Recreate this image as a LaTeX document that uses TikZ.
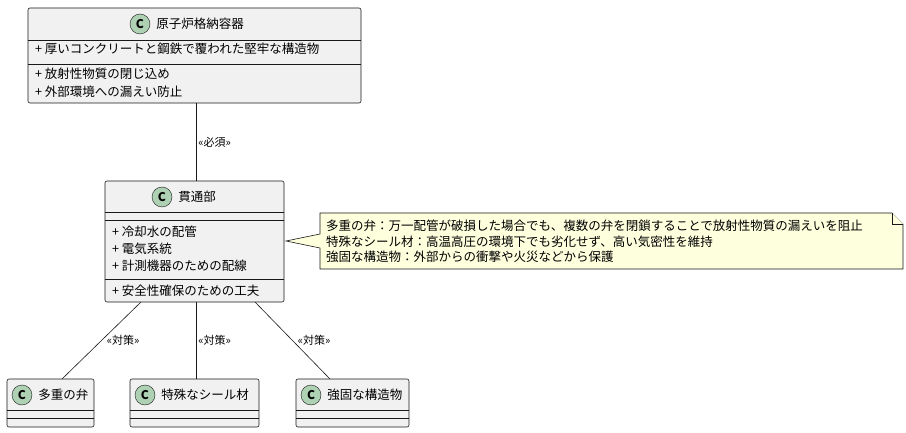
\documentclass[tikz,border=0pt]{standalone}
\usepackage{fontspec}
\setmainfont{Noto Sans CJK JP}
\usetikzlibrary{positioning}
\definecolor{boxfill}{HTML}{F1F1F1}
\definecolor{boxline}{HTML}{181818}
\definecolor{circfill}{HTML}{ADD1B2}
\definecolor{notefill}{HTML}{FEFFDD}
\tikzset{
  classbox/.style={draw=boxline, fill=boxfill, rounded corners=2pt, line width=0.6pt},
  sep/.style={draw=boxline, line width=0.6pt},
  txt/.style={anchor=west, inner sep=0pt, font=\fontsize{12.5}{14}\selectfont},
  lbl/.style={inner sep=1pt, font=\fontsize{11}{13}\selectfont},
  link/.style={draw=boxline, line width=0.6pt},
  cmark/.style={circle, draw=boxline, fill=circfill, minimum size=20pt, inner sep=0pt, font=\bfseries\fontsize{12}{12}\selectfont}
}
% class header: circle + title
\newcommand{\classhead}[4]{% name, circle x, y, title
  \node[cmark] (#1c) at (#2,#3) {C};
  \node[txt, right=6pt of #1c] (#1t) {#4};
}
\begin{document}
\begin{tikzpicture}[x=1pt, y=-1pt]
\useasboundingbox (0,0) rectangle (906,433);

% Containment vessel
\draw[classbox] (28,8) rectangle (361,103);
\coordinate (vesselS) at (196,103);
\classhead{v}{140}{24}{原子炉格納容器}
\draw[sep] (28,40) -- (361,40);
\node[txt] at (35,49) {+ 厚いコンクリートと鋼鉄で覆われた堅牢な構造物};
\draw[sep] (28,64) -- (361,64);
\node[txt] at (35,74) {+ 放射性物質の閉じ込め};
\node[txt] at (35,92) {+ 外部環境への漏えい防止};

% Penetration
\draw[classbox] (105,181) rectangle (284,302);
\coordinate (penN) at (196,181);
\coordinate (penS1) at (141,302);
\coordinate (penS2) at (196,302);
\coordinate (penS3) at (255,302);
\classhead{p}{162}{197}{貫通部}
\draw[sep] (105,212) -- (284,212);
\draw[sep] (105,220) -- (284,220);
\node[txt] at (112,232) {+ 冷却水の配管};
\node[txt] at (112,249) {+ 電気系統};
\node[txt] at (112,266) {+ 計測機器のための配線};
\draw[sep] (105,279) -- (284,279);
\node[txt] at (112,291) {+ 安全性確保のための工夫};

% Note
\draw[draw=boxline, fill=notefill, line width=0.6pt]
  (320,213) -- (892,213) -- (903,224) -- (903,269) -- (320,269) -- (320,248)
  -- (286,241) -- (320,234) -- cycle;
\draw[draw=boxline, fill=notefill, line width=0.6pt] (892,213) -- (892,224) -- (903,224);
\node[txt] (note1) at (326,226) {多重の弁：万一配管が破損した場合でも、複数の弁を閉鎖することで放射性物質の漏えいを阻止};
\node[txt] (note2) at (326,242) {特殊なシール材：高温高圧の環境下でも劣化せず、高い気密性を維持};
\node[txt] (note3) at (326,257) {強固な構造物：外部からの衝撃や火災などから保護};

% Bottom classes
\foreach \nm/\xa/\xb/\cx/\ttl in {valve/7/94/22/多重の弁, seal/130/259/145/特殊なシール材, struct/296/409/311/強固な構造物} {
  \draw[classbox] (\xa,379) rectangle (\xb,427);
  \classhead{\nm}{\cx}{395}{\ttl}
  \draw[sep] (\xa,410) -- (\xb,410);
  \draw[sep] (\xa,418) -- (\xb,418);
}
\coordinate (valveN) at (62,379);
\coordinate (sealN) at (196,379);
\coordinate (structN) at (330,379);

% Links
\draw[link] (vesselS) -- node[lbl, right=1pt] {«必須»} (penN);
\draw[link] (penS1) -- node[lbl, right=4pt] {«対策»} (valveN);
\draw[link] (penS2) -- node[lbl, right=1pt] {«対策»} (sealN);
\draw[link] (penS3) -- node[lbl, right=4pt] {«対策»} (structN);

\end{tikzpicture}
\end{document}
